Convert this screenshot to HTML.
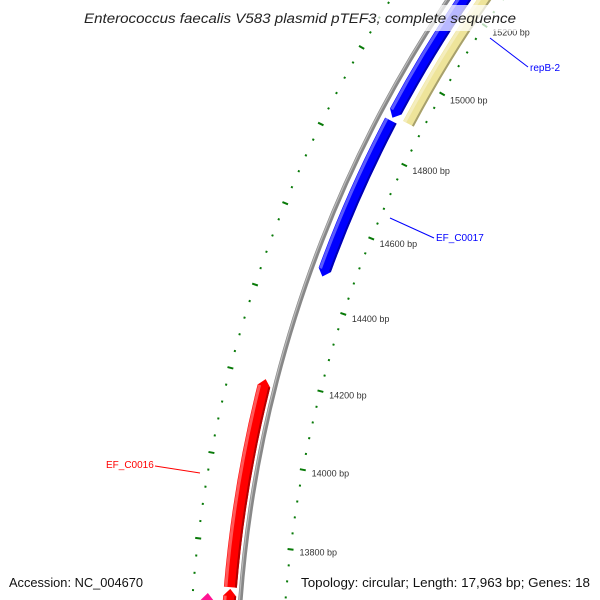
<!DOCTYPE html>
<html><head><meta charset="utf-8"><style>
html,body{margin:0;padding:0;background:#fff;width:600px;height:600px;overflow:hidden}
svg{display:block;font-family:"Liberation Sans",sans-serif}
</style></head><body>
<svg id="map" width="600" height="600" viewBox="0 0 600 600" xmlns="http://www.w3.org/2000/svg" overflow="hidden">
<rect width="600" height="600" fill="#fff"/>
<g id="ticks"></g>
<g id="feats"></g>
<g id="tlabels"></g>
<g id="flabels"></g>
<rect x="80" y="5" width="440" height="26" fill="#fff" opacity="0.72"/>
<text x="84" y="23" font-size="13.5" font-style="italic" fill="#222" textLength="432" lengthAdjust="spacingAndGlyphs">Enterococcus faecalis V583 plasmid pTEF3, complete sequence</text>
<text x="9" y="587" font-size="13" fill="#111" textLength="134" lengthAdjust="spacingAndGlyphs">Accession: NC_004670</text>
<text x="301" y="587" font-size="13" fill="#111" textLength="289" lengthAdjust="spacingAndGlyphs">Topology: circular; Length: 17,963 bp; Genes: 18</text>
</svg>
<script>
// data
const featNames = ["EF_C0015b","EF_C0016","EF_C0016b","EF_C0017","repB-2","repB-2-region"];
const featStarts = [13400,13694,13300,14470,14890,14895];
const featEnds   = [13676,14195,13690,14882,15700,15700];
const featStrand = [1,1,1,-1,-1,0];
const featColors = ["#ff1493","#ff0000","#ff0000","#0000ff","#0000ff","#eee49a"];
const featRadii  = [1275,1253,1253,1229,1229,1212];
const tickMajorBp = [13800,14000,14200,14400,14600,14800,15000,15200];
const tickLabels = ["13800 bp","14000 bp","14200 bp","14400 bp","14600 bp","14800 bp","15000 bp","15200 bp"];
const tickRange = [13400,15600];
const labelNames = ["EF_C0016","EF_C0017","repB-2"];
const labelBp = [14000,14650,15180];
</script>
<script>
const NS="http://www.w3.org/2000/svg";
const cx=1479, cy=692;
function ang(bp){return (190.7+(bp-14000)*0.01928)*Math.PI/180;}
function pt(bp,r){const a=ang(bp);return [cx+r*Math.cos(a),cy+r*Math.sin(a)];}
function mk(tag,attrs,parent){const e=document.createElementNS(NS,tag);for(const k in attrs)e.setAttribute(k,attrs[k]);parent.appendChild(e);return e;}
const gT=document.getElementById('ticks'),gF=document.getElementById('feats'),gL=document.getElementById('tlabels'),gFL=document.getElementById('flabels');

[1197,1290].forEach((r,ri)=>{
  for(let bp=tickRange[0];bp<=tickRange[1];bp+=40){
    const major=bp%200===0;
    const h=major?3:1;
    const p1=pt(bp,r-h),p2=pt(bp,r+h);
    const l=mk('line',{x1:p1[0],y1:p1[1],x2:p2[0],y2:p2[1],stroke:'#087a08','stroke-width':2},gT);
    
    
  }
});
tickMajorBp.forEach((bp,i)=>{
  const p=pt(bp,1188);
  const t=mk('text',{x:p[0],y:p[1]+5,'font-size':9,fill:'#333'},gL);
  t.textContent=tickLabels[i];
  
  
});

const HEAD=17;
function band(b1,b2,r,w,strand){
  const head=Math.min(HEAD,(b2-b1)*0.5);
  let s=b1,e=b2;
  if(strand===1)e=b2-head;
  if(strand===-1)s=b1+head;
  const ro=r+w/2,ri=r-w/2;
  const o1=pt(s,ro),o2=pt(e,ro),i2=pt(e,ri),i1=pt(s,ri);
  let d='M'+o1+' A'+ro+' '+ro+' 0 0 1 '+o2;
  if(strand===1){d+=' L'+pt(b2,r);}
  d+=' L'+i2+' A'+ri+' '+ri+' 0 0 0 '+i1;
  if(strand===-1){d+=' L'+pt(b1,r);}
  return d+' Z';
}
function lighten(c,f){const n=parseInt(c.slice(1),16);let r=n>>16,g=(n>>8)&255,b=n&255;r=Math.round(r+(255-r)*f);g=Math.round(g+(255-g)*f);b=Math.round(b+(255-b)*f);return 'rgb('+r+','+g+','+b+')';}
function darken(c,f){const n=parseInt(c.slice(1),16);return 'rgb('+Math.round((n>>16)*f)+','+Math.round(((n>>8)&255)*f)+','+Math.round((n&255)*f)+')';}

const bb=mk('path',{d:'M'+pt(13300,1242)+' A1242 1242 0 0 1 '+pt(15800,1242),fill:'none',stroke:'#888','stroke-width':4.5},gF);


mk('path',{d:'M'+pt(13300,1243)+' A1243 1243 0 0 1 '+pt(15800,1243),fill:'none',stroke:'#bbb','stroke-width':1.2},gF);

featNames.forEach((n,i)=>{
  const g=mk('g',{},gF);
  
  
  const st=featStrand[i];
  const w=st===0?12:13;
  const head=Math.min(HEAD,(featEnds[i]-featStarts[i])*0.5);
  const hs=st===-1?featStarts[i]+head:featStarts[i];
  const he=st===1?featEnds[i]-head:featEnds[i];
  mk('path',{d:band(featStarts[i],featEnds[i],featRadii[i],w,st),fill:featColors[i]},g);
  mk('path',{d:band(hs,he,featRadii[i]+w/2-2,3,0),fill:lighten(featColors[i],0.35)},g);
  mk('path',{d:band(hs,he,featRadii[i]-w/2+1,2,0),fill:darken(featColors[i],0.7)},g);
});

const labPos=[[155,466,200,473,106,468,'#ff0000'],[434,238,390,218,436,241,'#0000ff'],[528,67,490,38,530,71,'#0000ff']];
labelNames.forEach((n,i)=>{
  const p=labPos[i];
  const l=mk('line',{x1:p[0],y1:p[1],x2:p[2],y2:p[3],stroke:p[6],'stroke-width':1},gFL);
  
  
  const t=mk('text',{x:p[4],y:p[5],'font-size':10,fill:p[6]},gFL);
  t.textContent=n;
  
  
});
</script>
</body></html>
